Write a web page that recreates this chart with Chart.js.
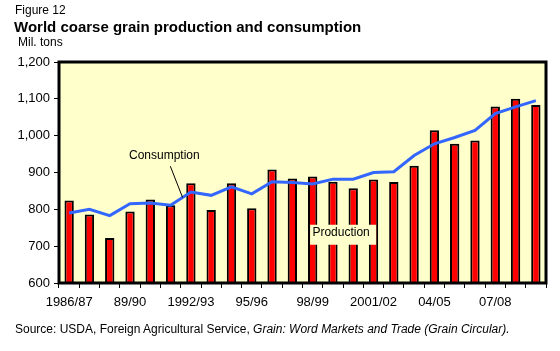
<!DOCTYPE html>
<html>
<head>
<meta charset="utf-8">
<script src="https://cdn.jsdelivr.net/npm/chart.js@4"></script>
<style>
  body { margin: 0; background: #fff; }
  #wrap { position: relative; width: 560px; height: 351px; font-family: "Liberation Sans", Arial, sans-serif; color: #000; }
  #wrap canvas { position: absolute; left: 0; top: 0; }
  .txt { position: absolute; white-space: nowrap; line-height: 1; }
</style>
</head>
<body>
<div id="wrap">
  <canvas id="chart" width="560" height="351"></canvas>
  <div class="txt" style="left:15px; top:4px; font-size:12px;">Figure 12</div>
  <div class="txt" style="left:14px; top:19px; font-size:15px; font-weight:bold;">World coarse grain production and consumption</div>
  <div class="txt" style="left:18px; top:36px; font-size:12px;">Mil. tons</div>
  <div class="txt" style="left:15px; top:323px; font-size:12px;">Source: USDA, Foreign Agricultural Service, <i>Grain: Word Markets and Trade (Grain Circular).</i></div>
</div>
<script>
const years = [
  '1986/87', '87/88', '88/89', '89/90', '90/91', '91/92', '1992/93', '93/94',
  '94/95', '95/96', '96/97', '97/98', '98/99', '99/2000', '2000/01', '2001/02',
  '02/03', '03/04', '04/05', '05/06', '06/07', '07/08', '08/09', '09/10'
];
const shownLabels = ['1986/87', '89/90', '1992/93', '95/96', '98/99', '2001/02', '04/05', '07/08'];
const production = [824, 786, 722, 794, 827, 811, 871, 798, 871, 803, 908, 884,
  889, 875, 857, 881, 874, 918, 1015, 978, 987, 1079, 1100, 1083];
const consumption = [790, 800, 783, 815, 817, 811, 847, 838, 861, 842, 875, 873,
  869, 882, 882, 900, 902, 946, 978, 995, 1014, 1060, 1078, 1095];
const yTicks = [600, 700, 800, 900, 1000, 1100, 1200];

const plotBg = '#FFFFCC';

const decorations = {
  id: 'decorations',
  beforeDraw(chart) {
    const {ctx, chartArea: a} = chart;
    ctx.save();
    ctx.fillStyle = plotBg;
    ctx.fillRect(a.left, a.top, a.right - a.left, a.bottom - a.top);
    ctx.restore();
  },
  afterDatasetsDraw(chart) {
    const {ctx} = chart;
    const x = chart.scales.x, y = chart.scales.y;
    ctx.save();
    // Production label box
    const px = (x.getPixelForValue(13) + x.getPixelForValue(14)) / 2;
    const py = y.getPixelForValue(731);
    ctx.font = '12px "Liberation Sans", Arial';
    ctx.textAlign = 'center';
    ctx.textBaseline = 'middle';
    ctx.fillStyle = plotBg;
    ctx.fillRect(px - 33, py - 10, 66, 20);
    ctx.fillStyle = '#000';
    ctx.fillText('Production', px - 2, py - 2);
    // Consumption label with leader
    const cx = x.getPixelForValue(4) + 14;
    const cy = y.getPixelForValue(947);
    ctx.fillText('Consumption', cx, cy);
    ctx.strokeStyle = '#000';
    ctx.lineWidth = 1;
    ctx.beginPath();
    ctx.moveTo(cx + 6, cy + 11);
    ctx.lineTo(x.getPixelForValue(5) + 12, y.getPixelForValue(832));
    ctx.stroke();
    ctx.restore();
  },
  afterDraw(chart) {
    const {ctx, chartArea: a} = chart;
    ctx.save();
    ctx.strokeStyle = '#000';
    ctx.lineWidth = 3;
    ctx.strokeRect(a.left, a.top, a.right - a.left, a.bottom - a.top);
    ctx.restore();
  }
};

Chart.defaults.font.family = '"Liberation Sans", Arial, sans-serif';
Chart.defaults.color = '#000';

new Chart(document.getElementById('chart'), {
  type: 'bar',
  data: {
    labels: years,
    datasets: [
      {
        type: 'line',
        label: 'Consumption',
        data: consumption,
        borderColor: '#3366FF',
        borderWidth: 3,
        pointRadius: 0,
        tension: 0,
        order: 0
      },
      {
        label: 'Production',
        data: production,
        backgroundColor: '#FF0000',
        borderColor: '#000',
        borderWidth: 2,
        categoryPercentage: 1,
        barPercentage: 0.46,
        order: 1
      }
    ]
  },
  options: {
    responsive: false,
    animation: false,
    layout: { padding: { top: 62, right: 14, left: 0, bottom: 0 } },
    scales: {
      x: {
        grid: { drawOnChartArea: false, tickLength: 5, color: '#000', offset: true },
        border: { display: false },
        afterFit: (s) => { s.height = 68; },
        ticks: {
          autoSkip: false,
          maxRotation: 0,
          padding: 7,
          font: { size: 13 },
          callback: (v, i) => shownLabels.includes(years[i]) ? years[i] : ''
        }
      },
      y: {
        min: 600,
        max: 1200,
        grid: { drawOnChartArea: false, tickLength: 5, color: '#000' },
        border: { display: false },
        afterFit: (s) => { s.width = 59; },
        afterBuildTicks: (s) => { s.ticks = yTicks.map((v) => ({ value: v })); },
        ticks: {
          padding: 4,
          font: { size: 13 },
          callback: (v) => v.toLocaleString('en-US')
        }
      }
    },
    plugins: {
      legend: { display: false },
      tooltip: { enabled: false }
    }
  },
  plugins: [decorations]
});
</script>
</body>
</html>
